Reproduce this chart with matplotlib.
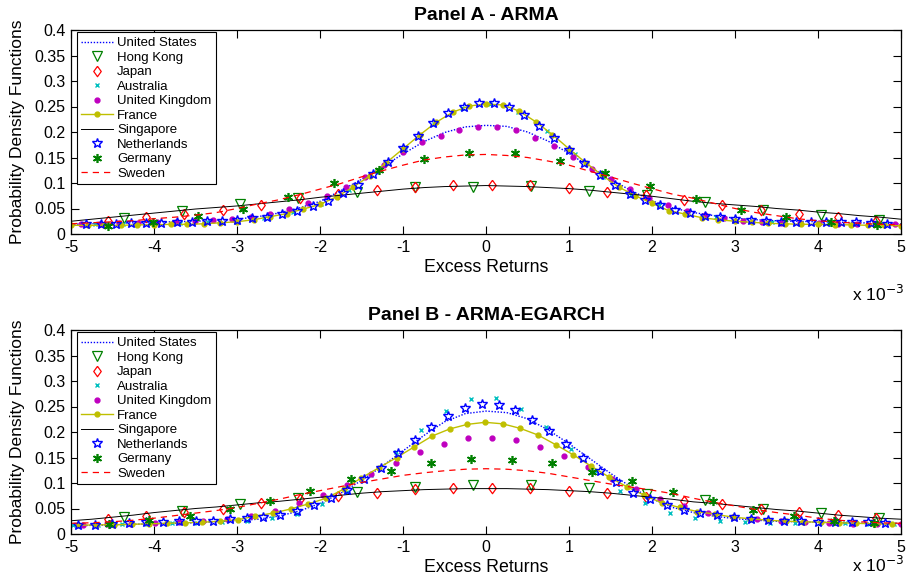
import numpy as np
import matplotlib
matplotlib.use("Agg")
import matplotlib.pyplot as plt
from matplotlib.ticker import FixedLocator

plt.rcParams['font.family'] = ['Liberation Sans', 'DejaVu Sans']
plt.rcParams['axes.unicode_minus'] = False

# ---------------- data (x in units of 1e-3) ----------------
X_LINE = np.linspace(-5, 5, 41)          # grid of the plain line series
X_HK = -4.36 + 0.70 * np.arange(14)      # Hong Kong marker positions
X_JP = -4.56 + 0.463 * np.arange(21)     # Japan marker positions

# Panel A grids
X_FR_A = np.linspace(-5, 5, 51)
X_NL_A = -4.82 + 0.182 * np.arange(54)
X_AU_A = -4.71 + 0.34 * np.arange(29)
X_UK_A = -4.88 + 0.228 * np.arange(44)
X_GE_A = -4.56 + 0.545 * np.arange(18)

# Panel B grids
X_FR_B = -4.91 + 0.213 * np.arange(47)
X_NL_B = -4.91 + 0.2025 * np.arange(49)
X_AU_B = -4.98 + 0.30 * np.arange(34)
X_UK_B = -4.86 + 0.29 * np.arange(35)
X_GE_B = -4.54 + 0.485 * np.arange(20)

# ---- Panel A - ARMA ----
A_US = [0.019, 0.020, 0.021, 0.022, 0.023, 0.024, 0.025, 0.027, 0.029, 0.034,
        0.041, 0.051, 0.064, 0.085, 0.107, 0.131, 0.157, 0.181, 0.199, 0.210,
        0.213, 0.211, 0.200, 0.182, 0.158, 0.132, 0.107, 0.085, 0.065, 0.051,
        0.042, 0.036, 0.031, 0.028, 0.026, 0.025, 0.024, 0.023, 0.022, 0.021, 0.020]
A_HK = [0.032, 0.046, 0.058, 0.071, 0.082, 0.093, 0.093, 0.094, 0.084, 0.076,
        0.062, 0.047, 0.037, 0.027]
A_JP = [0.026, 0.033, 0.040, 0.048, 0.057, 0.071, 0.078, 0.086, 0.093, 0.096,
        0.097, 0.097, 0.091, 0.083, 0.077, 0.066, 0.056, 0.047, 0.040, 0.034, 0.026]
A_AU = [0.019, 0.020, 0.021, 0.022, 0.024, 0.026, 0.032, 0.043, 0.058, 0.086,
        0.124, 0.170, 0.216, 0.248, 0.255, 0.240, 0.202, 0.156, 0.112, 0.076,
        0.056, 0.043, 0.033, 0.027, 0.024, 0.022, 0.021, 0.020, 0.019]
A_UK = [0.019, 0.020, 0.021, 0.022, 0.023, 0.023, 0.025, 0.027, 0.029, 0.034,
        0.039, 0.049, 0.060, 0.075, 0.092, 0.112, 0.135, 0.160, 0.180, 0.193,
        0.204, 0.210, 0.209, 0.203, 0.189, 0.172, 0.151, 0.127, 0.107, 0.088,
        0.070, 0.057, 0.045, 0.038, 0.032, 0.026, 0.023, 0.022, 0.021, 0.021,
        0.020, 0.020, 0.019, 0.019]
A_FR = [0.017, 0.017, 0.017, 0.017, 0.018, 0.018, 0.019, 0.019, 0.020, 0.022,
        0.024, 0.028, 0.034, 0.040, 0.049, 0.058, 0.073, 0.092, 0.114, 0.140,
        0.167, 0.194, 0.219, 0.239, 0.251, 0.255, 0.253, 0.241, 0.220, 0.195,
        0.167, 0.140, 0.115, 0.092, 0.075, 0.060, 0.046, 0.039, 0.032, 0.028,
        0.025, 0.023, 0.021, 0.020, 0.019, 0.019, 0.018, 0.018, 0.017, 0.017, 0.016]
A_SG = [0.025, 0.029, 0.033, 0.037, 0.041, 0.045, 0.049, 0.052, 0.055, 0.059,
        0.063, 0.067, 0.072, 0.076, 0.080, 0.084, 0.088, 0.091, 0.093, 0.094,
        0.095, 0.094, 0.093, 0.091, 0.089, 0.086, 0.082, 0.078, 0.074, 0.069,
        0.064, 0.060, 0.057, 0.054, 0.050, 0.047, 0.043, 0.040, 0.036, 0.033, 0.029]
A_NL = [0.020, 0.020, 0.020, 0.021, 0.021, 0.022, 0.023, 0.024, 0.025, 0.026,
        0.027, 0.031, 0.034, 0.039, 0.045, 0.055, 0.065, 0.080, 0.097, 0.118,
        0.142, 0.168, 0.192, 0.217, 0.237, 0.250, 0.256, 0.256, 0.249, 0.234,
        0.212, 0.189, 0.164, 0.139, 0.116, 0.096, 0.078, 0.066, 0.056, 0.048,
        0.042, 0.036, 0.033, 0.029, 0.027, 0.025, 0.024, 0.024, 0.024, 0.023,
        0.023, 0.023, 0.021, 0.020]
A_GE = [0.016, 0.024, 0.035, 0.049, 0.072, 0.100, 0.125, 0.147, 0.159, 0.158,
        0.143, 0.119, 0.094, 0.069, 0.047, 0.034, 0.024, 0.018]
A_SE = [0.020, 0.022, 0.024, 0.026, 0.030, 0.033, 0.037, 0.042, 0.050, 0.059,
        0.067, 0.077, 0.088, 0.099, 0.112, 0.124, 0.135, 0.145, 0.151, 0.155,
        0.156, 0.154, 0.150, 0.143, 0.135, 0.123, 0.112, 0.100, 0.089, 0.078,
        0.070, 0.060, 0.050, 0.042, 0.036, 0.030, 0.026, 0.023, 0.021, 0.019, 0.018]

# ---- Panel B - ARMA-EGARCH ----
B_US = [0.016, 0.017, 0.018, 0.019, 0.020, 0.021, 0.022, 0.024, 0.026, 0.029,
        0.035, 0.045, 0.060, 0.080, 0.105, 0.133, 0.163, 0.193, 0.220, 0.236,
        0.241, 0.238, 0.226, 0.204, 0.177, 0.148, 0.119, 0.092, 0.069, 0.052,
        0.042, 0.035, 0.030, 0.027, 0.025, 0.024, 0.023, 0.022, 0.021, 0.020, 0.019]
B_HK = [0.034, 0.046, 0.058, 0.070, 0.083, 0.093, 0.097, 0.097, 0.090, 0.078,
        0.066, 0.050, 0.041, 0.031]
B_JP = [0.029, 0.035, 0.044, 0.050, 0.060, 0.068, 0.075, 0.081, 0.088, 0.091,
        0.091, 0.091, 0.084, 0.081, 0.072, 0.065, 0.058, 0.050, 0.043, 0.037, 0.031]
B_AU = [0.017, 0.018, 0.019, 0.020, 0.021, 0.022, 0.023, 0.025, 0.032, 0.039,
        0.058, 0.083, 0.116, 0.160, 0.203, 0.242, 0.265, 0.266, 0.246, 0.209,
        0.166, 0.123, 0.084, 0.060, 0.042, 0.032, 0.025, 0.024, 0.022, 0.021,
        0.021, 0.021, 0.020, 0.020]
B_UK = [0.018, 0.019, 0.020, 0.022, 0.024, 0.026, 0.030, 0.036, 0.046, 0.060,
        0.076, 0.096, 0.117, 0.140, 0.161, 0.177, 0.188, 0.189, 0.184, 0.171,
        0.152, 0.131, 0.108, 0.088, 0.069, 0.054, 0.042, 0.034, 0.029, 0.026,
        0.023, 0.021, 0.020, 0.019, 0.019]
B_FR = [0.017, 0.018, 0.018, 0.019, 0.020, 0.021, 0.022, 0.023, 0.025, 0.028,
        0.035, 0.041, 0.049, 0.059, 0.070, 0.088, 0.110, 0.130, 0.150, 0.171,
        0.192, 0.206, 0.215, 0.219, 0.216, 0.207, 0.194, 0.175, 0.155, 0.133,
        0.112, 0.093, 0.076, 0.061, 0.052, 0.044, 0.039, 0.033, 0.030, 0.027,
        0.025, 0.024, 0.023, 0.022, 0.021, 0.020, 0.019]
B_SG = [0.026, 0.029, 0.033, 0.037, 0.042, 0.046, 0.050, 0.053, 0.057, 0.061,
        0.064, 0.068, 0.072, 0.076, 0.080, 0.083, 0.085, 0.087, 0.088, 0.089,
        0.089, 0.089, 0.088, 0.087, 0.085, 0.083, 0.080, 0.076, 0.072, 0.068,
        0.063, 0.060, 0.056, 0.052, 0.048, 0.045, 0.041, 0.037, 0.034, 0.031, 0.029]
B_NL = [0.018, 0.018, 0.020, 0.021, 0.023, 0.024, 0.025, 0.025, 0.026, 0.029,
        0.032, 0.034, 0.037, 0.045, 0.057, 0.071, 0.086, 0.108, 0.130, 0.158,
        0.184, 0.210, 0.231, 0.248, 0.255, 0.253, 0.243, 0.224, 0.201, 0.176,
        0.150, 0.124, 0.101, 0.081, 0.068, 0.056, 0.047, 0.042, 0.037, 0.033,
        0.030, 0.027, 0.026, 0.025, 0.024, 0.024, 0.023, 0.023, 0.022]
B_GE = [0.020, 0.027, 0.035, 0.050, 0.065, 0.085, 0.107, 0.124, 0.140, 0.148,
        0.146, 0.139, 0.121, 0.103, 0.082, 0.064, 0.048, 0.035, 0.026, 0.021]
B_SE = [0.021, 0.022, 0.024, 0.027, 0.031, 0.036, 0.041, 0.046, 0.052, 0.060,
        0.068, 0.077, 0.085, 0.093, 0.101, 0.108, 0.115, 0.120, 0.124, 0.127,
        0.128, 0.127, 0.124, 0.119, 0.112, 0.105, 0.098, 0.092, 0.086, 0.079,
        0.070, 0.062, 0.055, 0.048, 0.042, 0.037, 0.031, 0.027, 0.024, 0.022, 0.021]

LABELS = ["United States", "Hong Kong", "Japan", "Australia", "United Kingdom",
          "France", "Singapore", "Netherlands", "Germany", "Sweden"]
TITLES = ["Panel A - ARMA", "Panel B - ARMA-EGARCH"]
X_TICKS = [-5, -4, -3, -2, -1, 0, 1, 2, 3, 4, 5]
Y_TICKS = [0, 0.05, 0.1, 0.15, 0.2, 0.25, 0.3, 0.35, 0.4]
Y_TICKLABELS = ["0", "0.05", "0.1", "0.15", "0.2", "0.25", "0.3", "0.35", "0.4"]

# ---------------- styles ----------------
BLUE = (0, 0, 1)
GREEN = (0, 0.5, 0)
RED = (1, 0, 0)
CYAN = (0, 0.75, 0.75)
MAG = (0.75, 0, 0.75)
OLIVE = (0.75, 0.75, 0)
DIAMOND = [(0, 1), (0.72, 0), (0, -1), (-0.72, 0), (0, 1)]


def draw_panel(ax, us, hk, jp, au, uk, fr, sg, nl, ge, se, title,
               x_fr, x_nl, x_au, x_uk, x_ge):
    h = []
    h += ax.plot(X_LINE, us, color=BLUE, ls=(0, (1, 1.2)), lw=1.0)
    h += ax.plot(X_HK, hk, ls='none', marker='v', ms=6.5, mfc='none', mec=GREEN, mew=0.9)
    h += ax.plot(X_JP, jp, ls='none', marker=DIAMOND, ms=7.5, mfc='none', mec=RED, mew=0.9)
    h += ax.plot(x_au, au, ls='none', marker='x', ms=3.5, color=CYAN, mew=1.0)
    h += ax.plot(x_uk, uk, ls='none', marker='o', ms=3.5, color=MAG, mec=MAG)
    h += ax.plot(x_fr, fr, color=OLIVE, lw=1.0, marker='o', ms=3.5)
    h += ax.plot(X_LINE, sg, color='black', lw=0.7)
    h += ax.plot(x_nl, nl, ls='none', marker='*', ms=7.5, mfc='none', mec=BLUE, mew=1.0)
    h += ax.plot(x_ge, ge, ls='none', marker=(6, 2, 0), ms=6.5, color=GREEN, mew=1.2)
    h += ax.plot(X_LINE, se, color=RED, ls=(0, (5, 4)), lw=0.9)

    ax.set_xlim(-5, 5)
    ax.set_ylim(0, 0.4)
    ax.xaxis.set_major_locator(FixedLocator(X_TICKS))
    ax.set_xticklabels([str(t) for t in X_TICKS])
    ax.yaxis.set_major_locator(FixedLocator(Y_TICKS))
    ax.set_yticklabels(Y_TICKLABELS)
    ax.tick_params(direction='in', length=6, width=0.8, top=True, right=True,
                   labelsize=11.5, pad=4)
    for s in ax.spines.values():
        s.set_linewidth(0.9)
    ax.set_title(title, fontsize=14, fontweight='bold', pad=7)
    ax.set_xlabel("Excess Returns", fontsize=12.8, labelpad=3)
    ax.set_ylabel("Probability Density Functions", fontsize=12.5, labelpad=7)
    leg = ax.legend(h, LABELS, loc='upper left', bbox_to_anchor=(0.007, 0.988),
                    borderaxespad=0, fontsize=9.5, handlelength=2.4,
                    handletextpad=0.3, labelspacing=0.17, borderpad=0.35,
                    fancybox=False, framealpha=1, edgecolor='black')
    leg.get_frame().set_linewidth(0.8)
    return ax


fig = plt.figure(figsize=(9.12, 5.75), dpi=100)
W, H = 912, 575
axA = fig.add_axes([71 / W, 1 - 234 / H, 830 / W, 204 / H])
axB = fig.add_axes([71 / W, 1 - 534 / H, 830 / W, 204 / H])

draw_panel(axA, A_US, A_HK, A_JP, A_AU, A_UK, A_FR, A_SG, A_NL, A_GE, A_SE,
           TITLES[0], X_FR_A, X_NL_A, X_AU_A, X_UK_A, X_GE_A)
draw_panel(axB, B_US, B_HK, B_JP, B_AU, B_UK, B_FR, B_SG, B_NL, B_GE, B_SE,
           TITLES[1], X_FR_B, X_NL_B, X_AU_B, X_UK_B, X_GE_B)

fig.text(904 / W, 1 - 294 / H, r"x 10$^{-3}$", ha='right', va='center', fontsize=12.5)
fig.text(904 / W, 1 - 565 / H, r"x 10$^{-3}$", ha='right', va='center', fontsize=12.5)

fig.savefig("out.png", dpi=100)
